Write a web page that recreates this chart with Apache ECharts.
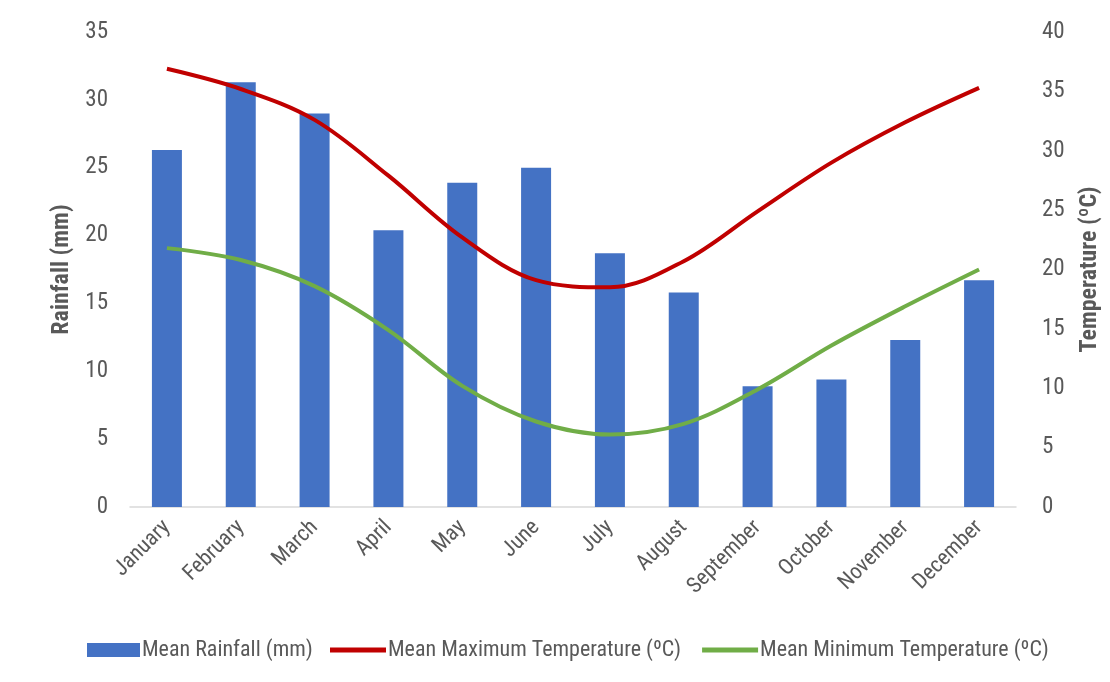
<!DOCTYPE html>
<html>
<head>
<meta charset="utf-8">
<script src="https://cdn.jsdelivr.net/npm/echarts@6/dist/echarts.min.js"></script>
<style>html,body{margin:0;padding:0;background:#fff;}#c{width:1110px;height:682px;}</style>
</head>
<body>
<div id="c"></div>
<script>
const months = ['January','February','March','April','May','June','July','August','September','October','November','December'];
const rainfall = [26.3, 31.3, 29.0, 20.4, 23.9, 25.0, 18.7, 15.8, 8.9, 9.4, 12.3, 16.7];
const maxTemp = [36.9, 35.2, 32.6, 27.9, 22.7, 19.1, 18.5, 20.7, 24.9, 29.0, 32.4, 35.3];
const minTemp = [21.8, 20.8, 18.6, 14.9, 10.2, 7.2, 6.1, 7.0, 9.9, 13.6, 16.9, 20.0];
const rainTicks = [0, 35, 5];
const tempTicks = [0, 40, 5];
const seriesNames = ['Mean Rainfall (mm)', 'Mean Maximum Temperature (ºC)', 'Mean Minimum Temperature (ºC)'];

const FONT = "'Liberation Sans Narrow', 'Roboto Condensed', 'Liberation Sans', sans-serif";
const GREY = '#595959';
const chart = echarts.init(document.getElementById('c'));
chart.setOption({
  animation: false,
  textStyle: {fontFamily: FONT},
  grid: {left: 130, right: 94, top: 32, bottom: 175, containLabel: false},
  legend: [
    {left: 82, top: 634, itemGap: 21, itemWidth: 53, itemHeight: 14, icon: 'rect',
     textStyle: {color: GREY, fontSize: 22, fontFamily: FONT, padding: [0,0,0,-3]},
     data: [seriesNames[0]]},
    {left: 325, top: 634, itemGap: 21, itemWidth: 56, itemHeight: 5, icon: 'rect',
     textStyle: {color: GREY, fontSize: 22, fontFamily: FONT, padding: [0,0,0,-3]},
     data: [seriesNames[1], seriesNames[2]]}
  ],
  xAxis: {
    type: 'category', data: months,
    axisLine: {lineStyle: {color: '#d9d9d9', width: 1.5}},
    axisTick: {show: false},
    axisLabel: {rotate: 45, color: GREY, fontSize: 22, fontFamily: FONT, margin: 17, interval: 0}
  },
  yAxis: [
    {type: 'value', min: rainTicks[0], max: rainTicks[1], interval: rainTicks[2],
     name: 'Rainfall (mm)', nameLocation: 'middle', nameGap: 54, nameRotate: 90,
     nameTextStyle: {color: GREY, fontSize: 24, fontWeight: 'bold', fontFamily: FONT},
     axisLine: {show: false}, axisTick: {show: false}, splitLine: {show: false},
     axisLabel: {color: GREY, fontSize: 23, fontFamily: FONT, margin: 22}},
    {type: 'value', min: tempTicks[0], max: tempTicks[1], interval: tempTicks[2],
     name: 'Temperature (ºC)', nameLocation: 'middle', nameGap: 62, nameRotate: 90,
     nameTextStyle: {color: GREY, fontSize: 24, fontWeight: 'bold', fontFamily: FONT},
     axisLine: {show: false}, axisTick: {show: false}, splitLine: {show: false},
     axisLabel: {color: GREY, fontSize: 23, fontFamily: FONT, margin: 26}}
  ],
  series: [
    {name: seriesNames[0], type: 'bar', data: rainfall, barWidth: 30, yAxisIndex: 0,
     itemStyle: {color: '#4472C4'}},
    {name: seriesNames[1], type: 'line', data: maxTemp, yAxisIndex: 1,
     smooth: 0.35, symbol: 'none', lineStyle: {color: '#C00000', width: 4}, itemStyle: {color: '#C00000'}},
    {name: seriesNames[2], type: 'line', data: minTemp, yAxisIndex: 1,
     smooth: 0.35, symbol: 'none', lineStyle: {color: '#70AD47', width: 4}, itemStyle: {color: '#70AD47'}}
  ]
});
</script>
</body>
</html>
